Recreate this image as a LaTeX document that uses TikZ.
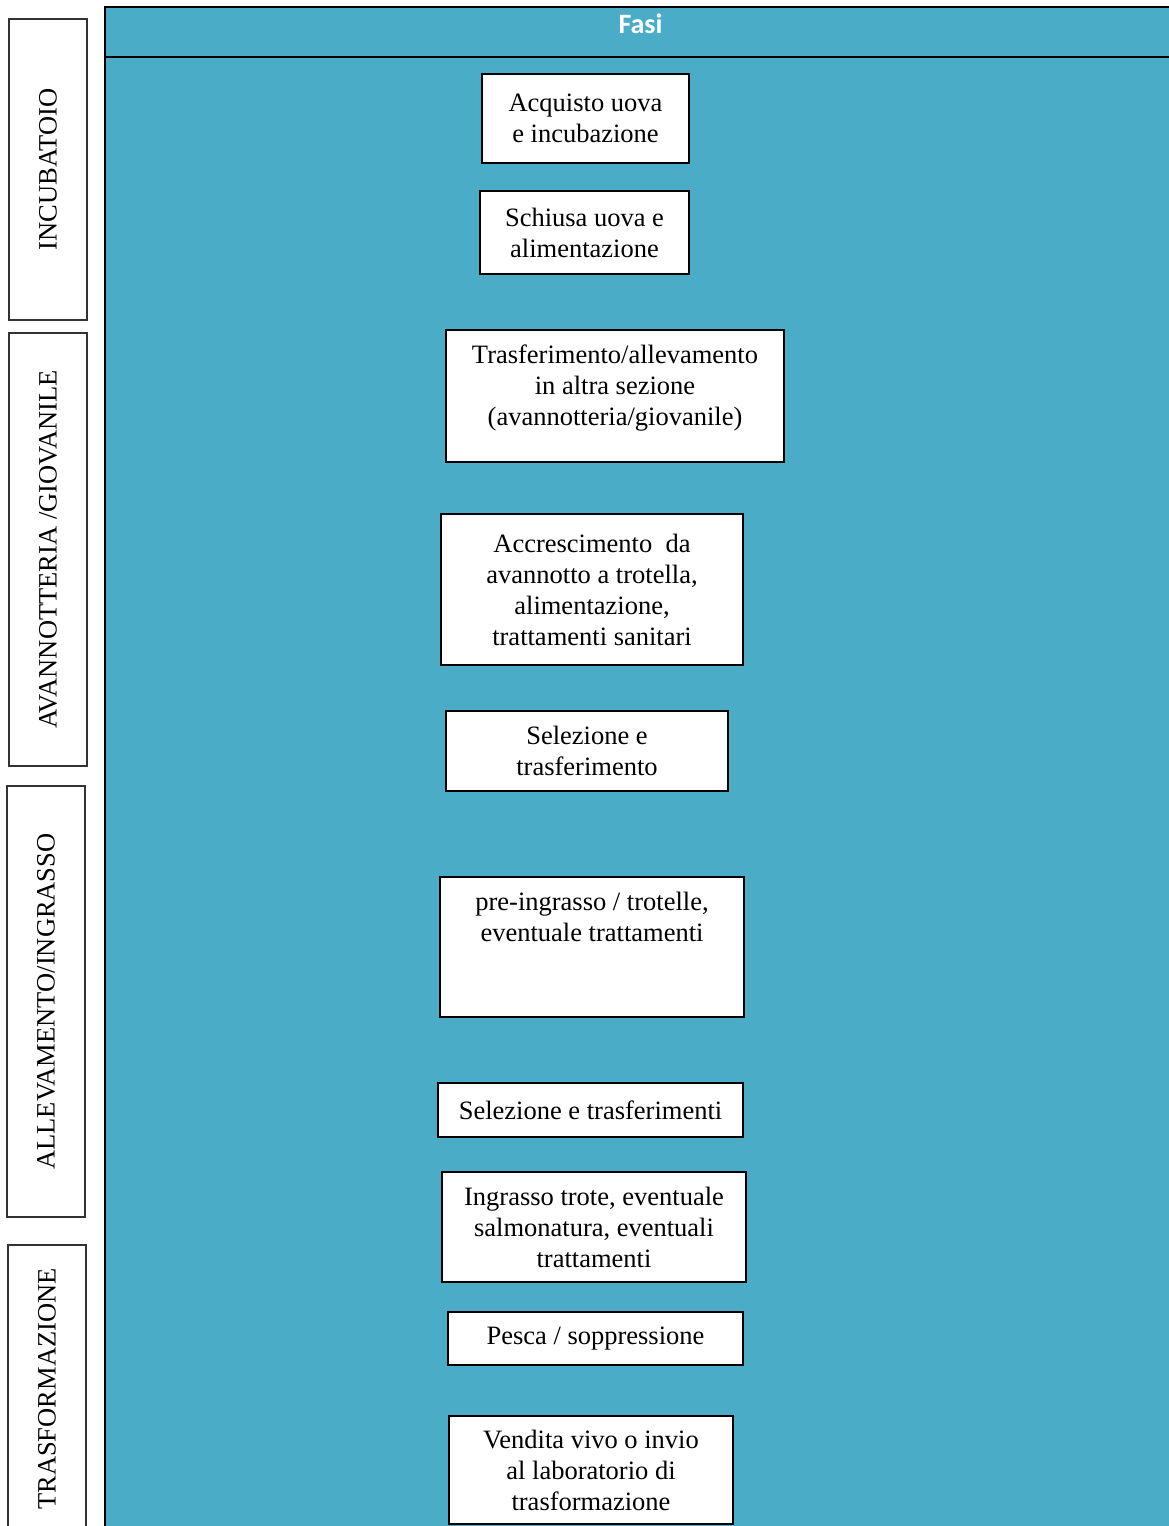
\documentclass[tikz,border=0pt]{standalone}
\usepackage{fontspec}
\setmainfont{Liberation Serif}
\newfontfamily\headfont{Carlito}
\definecolor{fasiblu}{RGB}{74,172,198}
\newcommand{\testo}{\fontsize{26.5}{31}\selectfont}

\begin{document}
\begin{tikzpicture}[x=1pt, y=-1pt,
fase/.style={draw=black, fill=white, line width=1.3pt, align=center,
inner sep=0pt, font=\testo},
fascia/.style={draw=black!80, fill=white, line width=1.5pt, rotate=90,
minimum height=78pt, inner sep=0pt, font=\testo}]
\useasboundingbox (0,0) rectangle (1168,1526);

% pannello blu
\fill[fasiblu] (105,7) rectangle (1180,1540);
\draw[line width=2.5pt] (1180,7) -- (105,7) -- (105,1540);
\draw[line width=2.5pt] (105,57) -- (1180,57);
\node[text=white, font=\headfont\bfseries\fontsize{28}{32}\selectfont] (fasi) at (640.5,23.5) {Fasi};

% colonna delle sezioni
\node[fascia, minimum width=301pt] (incubatoio) at (48,169.5) {INCUBATOIO};
\node[fascia, minimum width=433pt] (avannotteria) at (48,549.5) {AVANNOTTERIA /GIOVANILE};
\node[fascia, minimum width=431pt] (ingrasso) at (46,1001.5) {ALLEVAMENTO/INGRASSO};
\node[fascia, minimum width=288pt] (trasformazione) at (47,1389) {TRASFORMAZIONE};

% fasi
\node[fase, minimum width=207pt, minimum height=89pt] (acquisto) at (585.5,118.5) {
Acquisto uova\\
e incubazione};
\node[fase, minimum width=209pt, minimum height=83pt] (schiusa) at (584.5,232.5) {
Schiusa uova e\\
alimentazione};
\node[fase, minimum width=338pt, minimum height=132pt] (trasferimento) at (615,396) {
Trasferimento/allevamento\\
in altra sezione\\
(avannotteria/giovanile)\\[-9pt]\null};
\node[fase, minimum width=302pt, minimum height=151pt] (accrescimento) at (592,589.5) {
Accrescimento~ da\\
avannotto a trotella,\\
alimentazione,\\
trattamenti sanitari};
\node[fase, minimum width=282pt, minimum height=80pt] (selezione) at (587,751) {
Selezione e\\
trasferimento};
\node[fase, minimum width=304pt, minimum height=140pt] (preingrasso) at (592,947) {
pre-ingrasso / trotelle,\\
eventuale trattamenti\\[30pt]\null};
\node[fase, minimum width=305pt, minimum height=54pt] (selezioni) at (590.5,1110) {
Selezione e trasferimenti};
\node[fase, minimum width=304pt, minimum height=110pt] (ingrassotrote) at (594,1227) {
Ingrasso trote, eventuale\\
salmonatura, eventuali\\
trattamenti};
\node[fase, minimum width=295pt, minimum height=53pt] (pesca) at (595.5,1338.5) {
Pesca / soppressione};
\node[fase, minimum width=284pt, minimum height=108pt] (vendita) at (591,1470) {
Vendita vivo o invio\\
al laboratorio di\\
trasformazione};
\end{tikzpicture}
\end{document}
